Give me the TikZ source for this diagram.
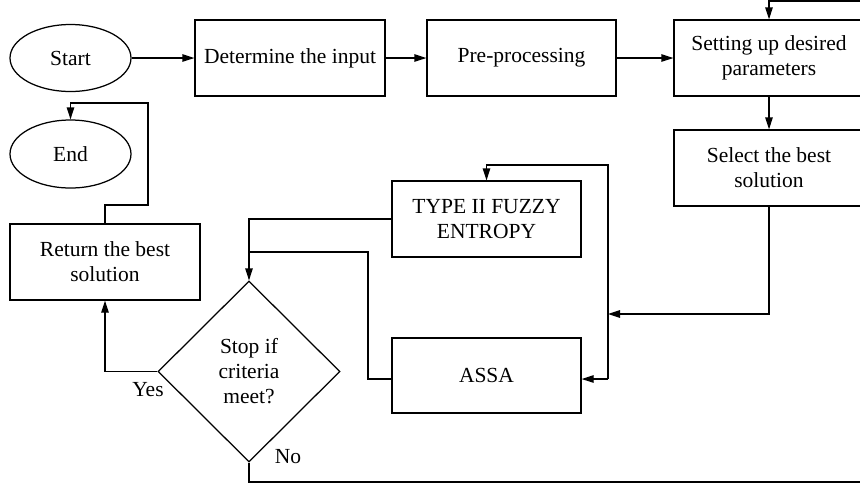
\documentclass[tikz,border=0pt]{standalone}
\usepackage{fontspec}
\setmainfont{Liberation Serif}
\usetikzlibrary{shapes.geometric,arrows.meta}
\begin{document}
\begin{tikzpicture}[x=1pt,y=-1pt,line width=1.25pt,
  every node/.style={font=\fontsize{21.5}{25}\selectfont},
  box/.style={draw,rectangle,inner sep=0pt,align=center},
  oval/.style={draw,ellipse,inner sep=0pt,minimum width=121pt,minimum height=67pt},
  dec/.style={draw,diamond,inner sep=0pt,align=center,minimum width=182pt,minimum height=181pt},
  arr/.style={-{Triangle[length=12pt,width=7.5pt]}},
  lbl/.style={inner sep=0pt}]
\useasboundingbox (0,0) rectangle (860,483);
\clip (0,0) rectangle (860,483);
\node[oval] (start) at (70.5,58) {Start};
\node[box,minimum width=190pt,minimum height=76pt] (det) at (290,58) {Determine the input};
\node[box,minimum width=189pt,minimum height=76pt] (pre) at (521.5,58) {Pre-processing};
\node[box,minimum width=190pt,minimum height=76pt] (set) at (769,58) {Setting up desired\\parameters};
\node[box,minimum width=190pt,minimum height=76pt] (sel) at (769,168) {Select the best\\solution};
\node[oval,minimum height=68pt] (end) at (70.5,154) {End};
\node[box,minimum width=190pt,minimum height=76pt] (ret) at (105,262) {Return the best\\solution};
\node[box,minimum width=189pt,minimum height=76pt] (type) at (486.5,219) {TYPE II FUZZY\\ENTROPY};
\node[box,minimum width=189pt,minimum height=75pt] (assa) at (486.5,375.5) {ASSA};
\node[dec] (dia) at (249,371.5) {Stop if\\criteria\\meet?};
\node[lbl] (yes) at (148,390) {Yes};
\node[lbl] (no) at (288,457) {No};
\coordinate (vt) at (608,165);
\coordinate (vb) at (608,379);
\coordinate (vm) at (608,314);
\coordinate (aw) at (392,379);
\coordinate (ax) at (368,252);
\coordinate (r1) at (105,205);
\coordinate (r2) at (148,205);
\coordinate (r3) at (148,103);
\coordinate (n1) at (249,482);
\coordinate (n2) at (880,482);
\coordinate (n3) at (880,1);
\draw[arr] (start) -- (det);
\draw[arr] (det) -- (pre);
\draw[arr] (pre) -- (set);
\draw[arr] (set.south -| sel.north) -- (sel.north);
\draw[arr] (sel.south) |- (vm);
\draw[arr] (vb) -- (vt) -| (type.north);
\draw[arr] (vb) -- (vb -| assa.east);
\draw[arr] (type.west) -| (dia.north);
\draw (aw) -| (ax) -- (ax -| dia.north);
\draw[arr] (dia.west) -| (ret.south);
\draw[arr] (ret.north) -- (r1) -- (r2) -- (r3) -| (end.north);
\draw[arr] (dia.south) -- (n1) -- (n2) -- (n3) -| (set.north);
\end{tikzpicture}
\end{document}
